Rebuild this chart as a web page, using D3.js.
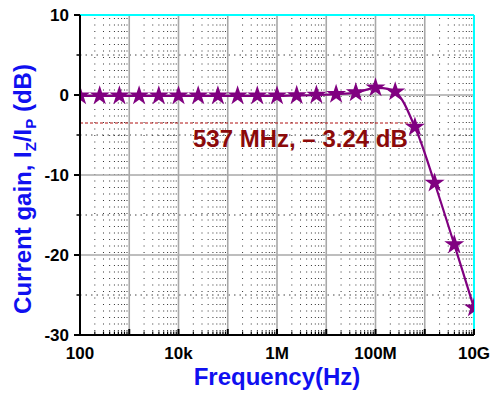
<!DOCTYPE html>
<html>
<head>
<meta charset="utf-8">
<script src="https://cdn.jsdelivr.net/npm/d3@7"></script>
<style>
  body { margin: 0; background: #fff; }
  text { font-family: "Liberation Sans", Arial, sans-serif; font-weight: bold; }
</style>
</head>
<body>
<div id="chart"></div>
<script>
// data
const logFreq = [2, 2.4, 2.8, 3.2, 3.6, 4, 4.4, 4.8, 5.2, 5.6, 6, 6.4, 6.8, 7.2, 7.6, 8, 8.4, 8.8, 9.2, 9.6, 10];
const gainDb = [-0.1, -0.1, -0.1, -0.1, -0.1, -0.1, -0.1, -0.1, -0.1, -0.1, -0.1, -0.05, 0, 0.1, 0.3, 0.9, 0.4, -4.0, -11.0, -18.7, -26.6];
const xTickVals = [1e2, 1e4, 1e6, 1e8, 1e10];
const xTickLabels = ["100", "10k", "1M", "100M", "10G"];
const yTickVals = [10, 0, -10, -20, -30];
const cutoffFreq = 537e6;
const cutoffLine = -3.5;
const cutoffLabel = "537 MHz, \u2013 3.24 dB";

const WIDTH = 493, HEIGHT = 396;
const PLOT = { LEFT: 80, RIGHT: 474, TOP: 15, BOTTOM: 335 };
const BLUE = "#1010f0", PURPLE = "#800080", DARKRED = "#8b0a0a";

const data = logFreq.map((l, i) => ({ f: Math.pow(10, l), g: gainDb[i] }));

const svg = d3.select("#chart").append("svg")
    .attr("width", WIDTH)
    .attr("height", HEIGHT);

const x = d3.scaleLog().domain([1e2, 1e10]).range([PLOT.LEFT, PLOT.RIGHT]);
const y = d3.scaleLinear().domain([-30, 10]).range([PLOT.BOTTOM, PLOT.TOP]);

svg.append("defs").append("clipPath").attr("id", "plotclip")
    .append("rect")
    .attr("x", PLOT.LEFT).attr("y", PLOT.TOP - 10)
    .attr("width", PLOT.RIGHT - PLOT.LEFT).attr("height", PLOT.BOTTOM - PLOT.TOP + 10);

// minor ticks on log axis (2..9 of each decade)
const minorX = [];
for (let e = 2; e < 10; e++) {
    for (let m = 2; m <= 9; m++) minorX.push(m * Math.pow(10, e));
}
const majorX = [];
for (let e = 2; e <= 10; e++) majorX.push(Math.pow(10, e));

const grid = svg.append("g");

// dotted minor verticals
grid.selectAll(".vminor")
    .data(minorX)
    .join("line")
    .attr("x1", d => x(d)).attr("x2", d => x(d))
    .attr("y1", PLOT.TOP + 3).attr("y2", PLOT.BOTTOM)
    .attr("stroke", "#333")
    .attr("stroke-width", 1)
    .attr("stroke-dasharray", "1,5.5");

// dashed minor horizontals
grid.selectAll(".hminor")
    .data([5, -5, -15, -25])
    .join("line")
    .attr("x1", PLOT.LEFT).attr("x2", PLOT.RIGHT)
    .attr("y1", d => y(d)).attr("y2", d => y(d))
    .attr("stroke", "#444")
    .attr("stroke-width", 1)
    .attr("stroke-dasharray", "1.5,4");

// solid major grid
grid.selectAll(".vmajor")
    .data(majorX.slice(1, -1))
    .join("line")
    .attr("x1", d => x(d)).attr("x2", d => x(d))
    .attr("y1", PLOT.TOP).attr("y2", PLOT.BOTTOM)
    .attr("stroke", "#a8a8a8")
    .attr("stroke-width", 1.6);

grid.selectAll(".hmajor")
    .data([0, -10, -20])
    .join("line")
    .attr("x1", PLOT.LEFT).attr("x2", PLOT.RIGHT)
    .attr("y1", d => y(d)).attr("y2", d => y(d))
    .attr("stroke", "#a8a8a8")
    .attr("stroke-width", 1.6);

// cyan frame top / right
svg.append("line")
    .attr("x1", PLOT.LEFT).attr("x2", PLOT.RIGHT)
    .attr("y1", PLOT.TOP).attr("y2", PLOT.TOP)
    .attr("stroke", "#00ffff").attr("stroke-width", 2);
svg.append("line")
    .attr("x1", PLOT.RIGHT).attr("x2", PLOT.RIGHT)
    .attr("y1", PLOT.TOP).attr("y2", PLOT.BOTTOM)
    .attr("stroke", "#00ffff").attr("stroke-width", 2);

// -3 dB marker
svg.append("line")
    .attr("x1", PLOT.LEFT).attr("x2", x(cutoffFreq))
    .attr("y1", y(cutoffLine)).attr("y2", y(cutoffLine))
    .attr("stroke", "#b01010")
    .attr("stroke-width", 1)
    .attr("stroke-dasharray", "3,2");

svg.append("text")
    .attr("x", 193)
    .attr("y", 147)
    .attr("fill", DARKRED)
    .style("font-size", "24px")
    .text(cutoffLabel);

// curve + stars
const plotG = svg.append("g").attr("clip-path", "url(#plotclip)");

const line = d3.line()
    .x(d => x(d.f))
    .y(d => y(d.g))
    .curve(d3.curveCatmullRom.alpha(0.5));

plotG.append("path")
    .datum(data)
    .attr("fill", "none")
    .attr("stroke", PURPLE)
    .attr("stroke-width", 2.2)
    .attr("d", line);

plotG.selectAll(".star")
    .data(data)
    .join("path")
    .attr("transform", d => `translate(${x(d.f)},${y(d.g)})`)
    .attr("d", d3.symbol().type(d3.symbolStar).size(125))
    .attr("fill", PURPLE);

// axes
const xAxis = svg.append("g").attr("transform", `translate(0,${PLOT.BOTTOM})`);
xAxis.append("line")
    .attr("x1", PLOT.LEFT - 1).attr("x2", PLOT.RIGHT)
    .attr("stroke", "#000").attr("stroke-width", 2);
xAxis.selectAll(".xmaj")
    .data(majorX)
    .join("line")
    .attr("x1", d => x(d)).attr("x2", d => x(d))
    .attr("y1", 0).attr("y2", -6)
    .attr("stroke", "#000").attr("stroke-width", 2);
xAxis.selectAll(".xmin")
    .data(minorX)
    .join("line")
    .attr("x1", d => x(d)).attr("x2", d => x(d))
    .attr("y1", 0).attr("y2", -3.5)
    .attr("stroke", "#000").attr("stroke-width", 1.2);
xAxis.selectAll(".xlab")
    .data(xTickVals)
    .join("text")
    .attr("x", d => x(d))
    .attr("y", 24)
    .attr("text-anchor", "middle")
    .style("font-size", "17px")
    .text((d, i) => xTickLabels[i]);

const yAxis = svg.append("g").attr("transform", `translate(${PLOT.LEFT},0)`);
yAxis.append("line")
    .attr("y1", PLOT.TOP).attr("y2", PLOT.BOTTOM + 1)
    .attr("stroke", "#000").attr("stroke-width", 2);
yAxis.selectAll(".ymaj")
    .data(yTickVals)
    .join("line")
    .attr("x1", 0).attr("x2", -6)
    .attr("y1", d => y(d)).attr("y2", d => y(d))
    .attr("stroke", "#000").attr("stroke-width", 2);
yAxis.selectAll(".ymin")
    .data([5, -5, -15, -25])
    .join("line")
    .attr("x1", 0).attr("x2", -3.5)
    .attr("y1", d => y(d)).attr("y2", d => y(d))
    .attr("stroke", "#000").attr("stroke-width", 1.5);
yAxis.selectAll(".ylab")
    .data(yTickVals)
    .join("text")
    .attr("x", -11)
    .attr("y", d => y(d))
    .attr("dy", "0.36em")
    .attr("text-anchor", "end")
    .style("font-size", "17px")
    .text(d => d);

// axis titles
svg.append("text")
    .attr("x", 277)
    .attr("y", 385)
    .attr("text-anchor", "middle")
    .attr("fill", BLUE)
    .style("font-size", "24px")
    .text("Frequency(Hz)");

const yTitle = svg.append("text")
    .attr("transform", "translate(31,189) rotate(-90)")
    .attr("text-anchor", "middle")
    .attr("fill", BLUE)
    .style("font-size", "24px");
yTitle.append("tspan").text("Current gain, I");
yTitle.append("tspan").attr("dy", 5).style("font-size", "15px").text("Z");
yTitle.append("tspan").attr("dy", -5).text("/I");
yTitle.append("tspan").attr("dy", 5).style("font-size", "15px").text("P");
yTitle.append("tspan").attr("dy", -5).text(" (dB)");
</script>
</body>
</html>
